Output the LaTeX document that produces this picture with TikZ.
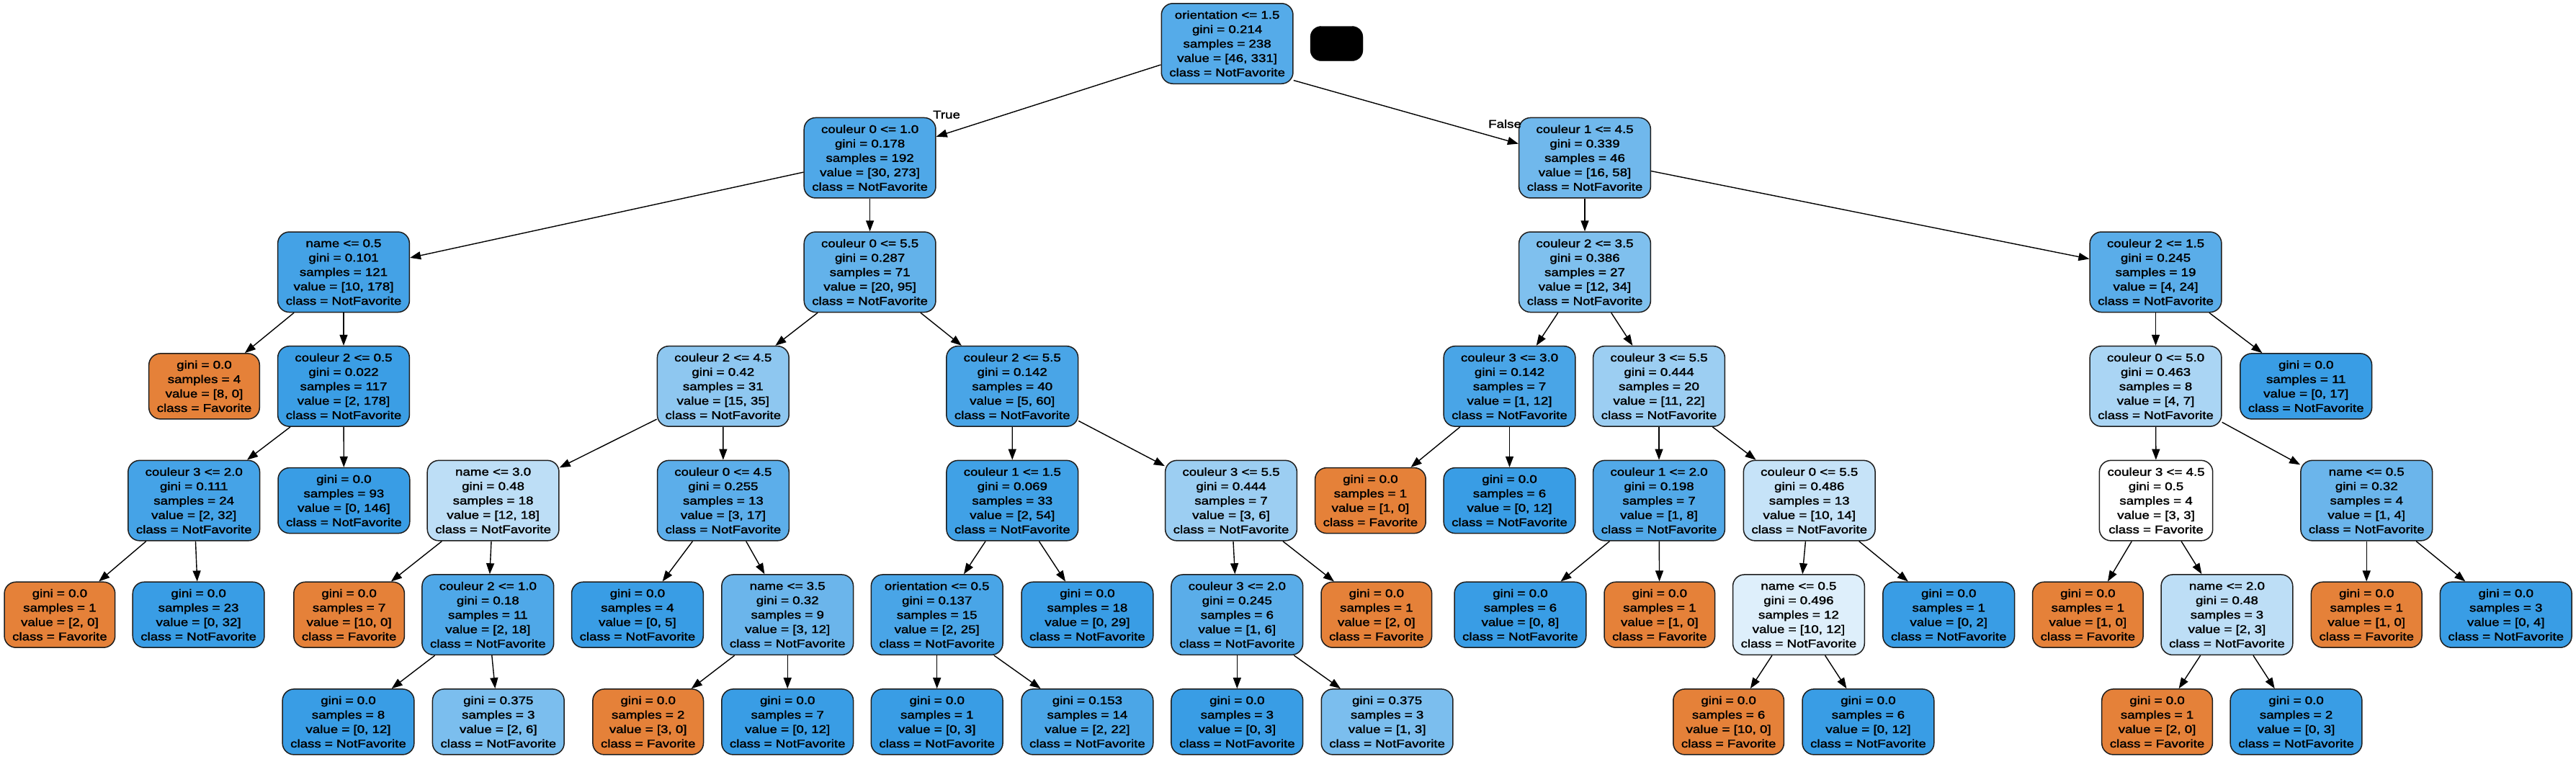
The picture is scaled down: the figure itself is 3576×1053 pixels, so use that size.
\documentclass[tikz,border=0pt]{standalone}
\usepackage{fontspec}
\setmainfont{Liberation Sans}[FakeStretch=1.2,FakeBold=2]
\usetikzlibrary{arrows.meta}
\definecolor{cb}{RGB}{57,157,229}
\definecolor{co}{RGB}{229,129,57}
\definecolor{bd}{RGB}{30,30,30}
\tikzset{
  tn/.style={draw=bd, line width=1.5pt, rounded corners=16pt, inner xsep=11pt, inner ysep=3pt,
    align=center, font=\fontsize{15.6}{20}\selectfont},
  five/.style={tn, minimum height=111.5pt},
  four/.style={tn, minimum height=91pt},
  arr/.style={line width=1.4pt, -{Triangle[length=15pt,width=11pt]}},
  lbl/.style={inner sep=0pt, anchor=base, font=\fontsize{15.6}{20}\selectfont},
}
\begin{document}
\begin{tikzpicture}[x=1pt,y=-1pt]
\fill[white] (0,0) rectangle (3576,1053);
\useasboundingbox (0,0) rectangle (3576,1053);
% level 0
\node[five,fill=cb!86.1!white] (n0) at (1703.6,60.5) {orientation <= 1.5\\gini = 0.214\\samples = 238\\value = [46, 331]\\class = NotFavorite};
\node[draw=black, fill=black, rounded corners=15pt, minimum width=73pt, minimum height=48pt, inner sep=0pt] (blk) at (1855.5,60.5) {};
% level 1
\node[five,fill=cb!89.0!white] (a1) at (1207.6,219.2) {couleur 0 <= 1.0\\gini = 0.178\\samples = 192\\value = [30, 273]\\class = NotFavorite};
\node[five,fill=cb!72.4!white] (b1) at (2200,219.2) {couleur 1 <= 4.5\\gini = 0.339\\samples = 46\\value = [16, 58]\\class = NotFavorite};
% level 2
\node[five,fill=cb!94.4!white] (a2) at (477,377.8) {name <= 0.5\\gini = 0.101\\samples = 121\\value = [10, 178]\\class = NotFavorite};
\node[five,fill=cb!78.9!white] (b2) at (1207.6,377.8) {couleur 0 <= 5.5\\gini = 0.287\\samples = 71\\value = [20, 95]\\class = NotFavorite};
\node[five,fill=cb!64.7!white] (c2) at (2200,377.8) {couleur 2 <= 3.5\\gini = 0.386\\samples = 27\\value = [12, 34]\\class = NotFavorite};
\node[five,fill=cb!83.3!white] (d2) at (2992.5,377.8) {couleur 2 <= 1.5\\gini = 0.245\\samples = 19\\value = [4, 24]\\class = NotFavorite};
% level 3
\node[four,fill=co] (a3) at (283.5,536.4) {gini = 0.0\\samples = 4\\value = [8, 0]\\class = Favorite};
\node[five,fill=cb!98.9!white] (b3) at (477,536.4) {couleur 2 <= 0.5\\gini = 0.022\\samples = 117\\value = [2, 178]\\class = NotFavorite};
\node[five,fill=cb!57.1!white] (c3) at (1003.8,536.4) {couleur 2 <= 4.5\\gini = 0.42\\samples = 31\\value = [15, 35]\\class = NotFavorite};
\node[five,fill=cb!91.7!white] (d3) at (1405.2,536.4) {couleur 2 <= 5.5\\gini = 0.142\\samples = 40\\value = [5, 60]\\class = NotFavorite};
\node[five,fill=cb!91.7!white] (e3) at (2095.5,536.4) {couleur 3 <= 3.0\\gini = 0.142\\samples = 7\\value = [1, 12]\\class = NotFavorite};
\node[five,fill=cb!50!white] (f3) at (2303,536.4) {couleur 3 <= 5.5\\gini = 0.444\\samples = 20\\value = [11, 22]\\class = NotFavorite};
\node[five,fill=cb!42.9!white] (g3) at (2992.5,536.4) {couleur 0 <= 5.0\\gini = 0.463\\samples = 8\\value = [4, 7]\\class = NotFavorite};
\node[four,fill=cb] (h3) at (3201.2,536.4) {gini = 0.0\\samples = 11\\value = [0, 17]\\class = NotFavorite};
% level 4
\node[five,fill=cb!93.75!white] (a4) at (269.2,695.1) {couleur 3 <= 2.0\\gini = 0.111\\samples = 24\\value = [2, 32]\\class = NotFavorite};
\node[four,fill=cb] (b4) at (477.4,695.1) {gini = 0.0\\samples = 93\\value = [0, 146]\\class = NotFavorite};
\node[five,fill=cb!33.3!white] (c4) at (684.6,695.1) {name <= 3.0\\gini = 0.48\\samples = 18\\value = [12, 18]\\class = NotFavorite};
\node[five,fill=cb!82.4!white] (d4) at (1003.9,695.1) {couleur 0 <= 4.5\\gini = 0.255\\samples = 13\\value = [3, 17]\\class = NotFavorite};
\node[five,fill=cb!96.3!white] (e4) at (1405.3,695.1) {couleur 1 <= 1.5\\gini = 0.069\\samples = 33\\value = [2, 54]\\class = NotFavorite};
\node[five,fill=cb!50!white] (f4) at (1709,695.1) {couleur 3 <= 5.5\\gini = 0.444\\samples = 7\\value = [3, 6]\\class = NotFavorite};
\node[four,fill=co] (g4) at (1902.4,695.1) {gini = 0.0\\samples = 1\\value = [1, 0]\\class = Favorite};
\node[four,fill=cb] (h4) at (2095.5,695.1) {gini = 0.0\\samples = 6\\value = [0, 12]\\class = NotFavorite};
\node[five,fill=cb!87.5!white] (i4) at (2303,695.1) {couleur 1 <= 2.0\\gini = 0.198\\samples = 7\\value = [1, 8]\\class = NotFavorite};
\node[five,fill=cb!28.6!white] (j4) at (2511.7,695.1) {couleur 0 <= 5.5\\gini = 0.486\\samples = 13\\value = [10, 14]\\class = NotFavorite};
\node[five,fill=white] (k4) at (2993,695.1) {couleur 3 <= 4.5\\gini = 0.5\\samples = 4\\value = [3, 3]\\class = Favorite};
\node[five,fill=cb!75!white] (l4) at (3285.2,695.1) {name <= 0.5\\gini = 0.32\\samples = 4\\value = [1, 4]\\class = NotFavorite};
% level 5
\node[four,fill=co] (a5) at (82.9,853.7) {gini = 0.0\\samples = 1\\value = [2, 0]\\class = Favorite};
\node[four,fill=cb] (b5) at (275.6,853.7) {gini = 0.0\\samples = 23\\value = [0, 32]\\class = NotFavorite};
\node[four,fill=co] (c5) at (484.6,853.7) {gini = 0.0\\samples = 7\\value = [10, 0]\\class = Favorite};
\node[five,fill=cb!88.9!white] (d5) at (677.3,853.7) {couleur 2 <= 1.0\\gini = 0.18\\samples = 11\\value = [2, 18]\\class = NotFavorite};
\node[four,fill=cb] (e5) at (884.9,853.7) {gini = 0.0\\samples = 4\\value = [0, 5]\\class = NotFavorite};
\node[five,fill=cb!75!white] (f5) at (1093.2,853.7) {name <= 3.5\\gini = 0.32\\samples = 9\\value = [3, 12]\\class = NotFavorite};
\node[five,fill=cb!92!white] (g5) at (1300.7,853.7) {orientation <= 0.5\\gini = 0.137\\samples = 15\\value = [2, 25]\\class = NotFavorite};
\node[four,fill=cb] (h5) at (1509.4,853.7) {gini = 0.0\\samples = 18\\value = [0, 29]\\class = NotFavorite};
\node[five,fill=cb!83.3!white] (i5) at (1717.3,853.7) {couleur 3 <= 2.0\\gini = 0.245\\samples = 6\\value = [1, 6]\\class = NotFavorite};
\node[four,fill=co] (j5) at (1910.8,853.7) {gini = 0.0\\samples = 1\\value = [2, 0]\\class = Favorite};
\node[four,fill=cb] (k5) at (2110.4,853.7) {gini = 0.0\\samples = 6\\value = [0, 8]\\class = NotFavorite};
\node[four,fill=co] (l5) at (2303.8,853.7) {gini = 0.0\\samples = 1\\value = [1, 0]\\class = Favorite};
\node[five,fill=cb!16.7!white] (m5) at (2496.9,853.7) {name <= 0.5\\gini = 0.496\\samples = 12\\value = [10, 12]\\class = NotFavorite};
\node[four,fill=cb] (n5) at (2705.2,853.7) {gini = 0.0\\samples = 1\\value = [0, 2]\\class = NotFavorite};
\node[four,fill=co] (o5) at (2898.3,853.7) {gini = 0.0\\samples = 1\\value = [1, 0]\\class = Favorite};
\node[five,fill=cb!33.3!white] (p5) at (3091.4,853.7) {name <= 2.0\\gini = 0.48\\samples = 3\\value = [2, 3]\\class = NotFavorite};
\node[four,fill=co] (q5) at (3285.2,853.7) {gini = 0.0\\samples = 1\\value = [1, 0]\\class = Favorite};
\node[four,fill=cb] (r5) at (3478.7,853.7) {gini = 0.0\\samples = 3\\value = [0, 4]\\class = NotFavorite};
% level 6
\node[four,fill=cb] (a6) at (483.5,1002.4) {gini = 0.0\\samples = 8\\value = [0, 12]\\class = NotFavorite};
\node[four,fill=cb!66.7!white] (b6) at (691.8,1002.4) {gini = 0.375\\samples = 3\\value = [2, 6]\\class = NotFavorite};
\node[four,fill=co] (c6) at (899.7,1002.4) {gini = 0.0\\samples = 2\\value = [3, 0]\\class = Favorite};
\node[four,fill=cb] (d6) at (1093.2,1002.4) {gini = 0.0\\samples = 7\\value = [0, 12]\\class = NotFavorite};
\node[four,fill=cb] (e6) at (1300.7,1002.4) {gini = 0.0\\samples = 1\\value = [0, 3]\\class = NotFavorite};
\node[four,fill=cb!90.9!white] (f6) at (1509.4,1002.4) {gini = 0.153\\samples = 14\\value = [2, 22]\\class = NotFavorite};
\node[four,fill=cb] (g6) at (1717.3,1002.4) {gini = 0.0\\samples = 3\\value = [0, 3]\\class = NotFavorite};
\node[four,fill=cb!66.7!white] (h6) at (1925.6,1002.4) {gini = 0.375\\samples = 3\\value = [1, 3]\\class = NotFavorite};
\node[four,fill=co] (i6) at (2399.6,1002.4) {gini = 0.0\\samples = 6\\value = [10, 0]\\class = Favorite};
\node[four,fill=cb] (j6) at (2593.4,1002.4) {gini = 0.0\\samples = 6\\value = [0, 12]\\class = NotFavorite};
\node[four,fill=co] (k6) at (2994.5,1002.4) {gini = 0.0\\samples = 1\\value = [2, 0]\\class = Favorite};
\node[four,fill=cb] (l6) at (3187.5,1002.4) {gini = 0.0\\samples = 2\\value = [0, 3]\\class = NotFavorite};
% labels
\node[lbl] (tl) at (1314,164.5) {True};
\node[lbl] (fl) at (2089,177.5) {False};
% edges
\draw[arr] (n0) -- (a1);
\draw[arr] (n0.-29) -- (b1.168);
\draw[arr] (a1) -- (a2);
\draw[arr] (a1) -- (b2);
\draw[arr] (a2) -- (a3);
\draw[arr] (a2) -- (b3);
\draw[arr] (b3) -- (a4);
\draw[arr] (b3) -- (b4);
\draw[arr] (a4) -- (a5);
\draw[arr] (a4) -- (b5);
\draw[arr] (b2) -- (c3);
\draw[arr] (b2) -- (d3);
\draw[arr] (c3) -- (c4);
\draw[arr] (c3) -- (d4);
\draw[arr] (c4) -- (c5);
\draw[arr] (c4) -- (d5);
\draw[arr] (d5) -- (a6);
\draw[arr] (d5) -- (b6);
\draw[arr] (d4) -- (e5);
\draw[arr] (d4) -- (f5);
\draw[arr] (f5) -- (c6);
\draw[arr] (f5) -- (d6);
\draw[arr] (d3) -- (e4);
\draw[arr] (d3) -- (f4);
\draw[arr] (e4) -- (g5);
\draw[arr] (e4) -- (h5);
\draw[arr] (g5) -- (e6);
\draw[arr] (g5) -- (f6);
\draw[arr] (f4) -- (i5);
\draw[arr] (f4) -- (j5);
\draw[arr] (i5) -- (g6);
\draw[arr] (i5) -- (h6);
\draw[arr] (b1) -- (c2);
\draw[arr] (b1) -- (d2);
\draw[arr] (c2) -- (e3);
\draw[arr] (c2) -- (f3);
\draw[arr] (e3) -- (g4);
\draw[arr] (e3) -- (h4);
\draw[arr] (f3) -- (i4);
\draw[arr] (f3) -- (j4);
\draw[arr] (i4) -- (k5);
\draw[arr] (i4) -- (l5);
\draw[arr] (j4) -- (m5);
\draw[arr] (j4) -- (n5);
\draw[arr] (m5) -- (i6);
\draw[arr] (m5) -- (j6);
\draw[arr] (d2) -- (g3);
\draw[arr] (d2) -- (h3);
\draw[arr] (g3) -- (k4);
\draw[arr] (g3) -- (l4);
\draw[arr] (k4) -- (o5);
\draw[arr] (k4) -- (p5);
\draw[arr] (p5) -- (k6);
\draw[arr] (p5) -- (l6);
\draw[arr] (l4) -- (q5);
\draw[arr] (l4) -- (r5);
\end{tikzpicture}
\end{document}
